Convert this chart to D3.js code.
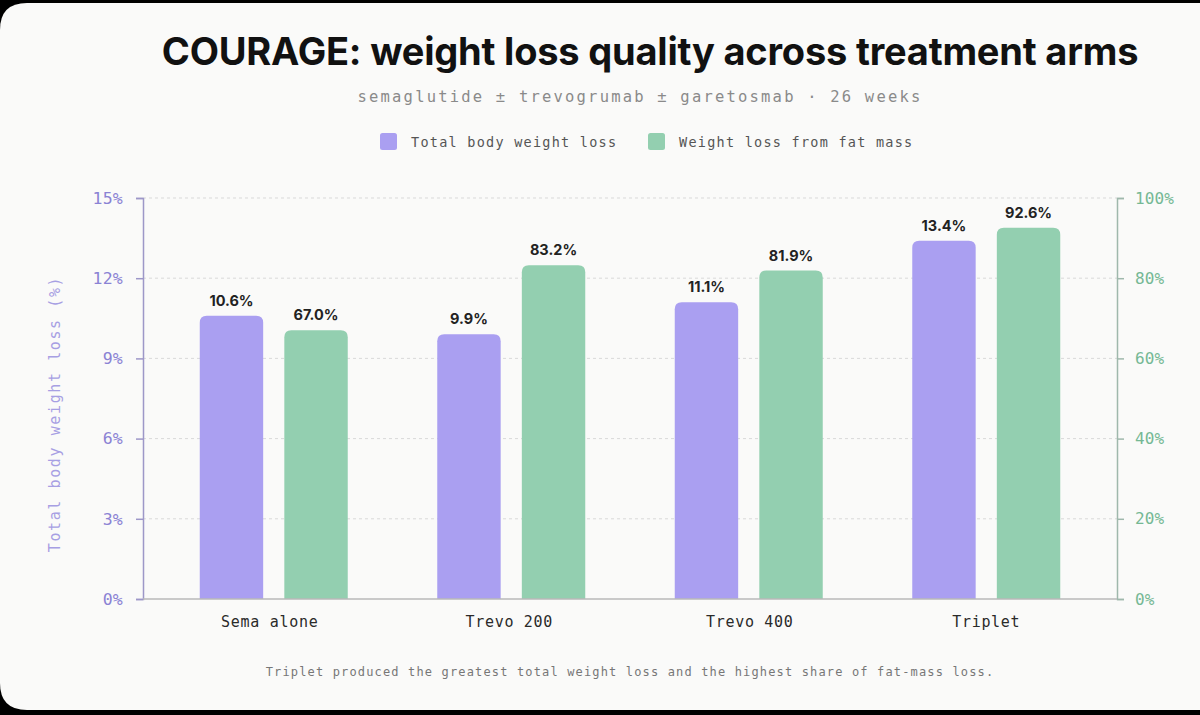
<!DOCTYPE html>
<html>
<head>
<meta charset="utf-8">
<script src="https://cdn.jsdelivr.net/npm/d3@7"></script>
<style>
  html, body { margin: 0; padding: 0; background: #000; }
  svg { display: block; }
</style>
</head>
<body>
<svg id="chart" width="1200" height="715"></svg>
<script>
const categories = ["Sema alone", "Trevo 200", "Trevo 400", "Triplet"];
const seriesNames = ["Total body weight loss", "Weight loss from fat mass"];
const totalLoss = [10.6, 9.9, 11.1, 13.4];
const fatMassShare = [67.0, 83.2, 81.9, 92.6];
const leftTicks = [0, 3, 6, 9, 12, 15];
const rightTicks = [0, 20, 40, 60, 80, 100];

(function () {
const W = 1200, H = 715;
const svg = d3.select("#chart");
const mono = "'DejaVu Sans Mono', 'Liberation Mono', monospace";
const sans = "Inter, 'Noto Sans', sans-serif";
const purple = "#aa9ff1";
const green = "#93cfb0";

// card background
const cr = 27, cTop = 3, cBot = 710;
svg.append("rect").attr("width", W).attr("height", H).attr("fill", "#000");
svg.append("path")
  .attr("d", `M${cr},${cTop} L${W},${cTop} L${W},${cBot} L${cr},${cBot} Q0,${cBot} 0,${cBot - cr} L0,${cTop + cr} Q0,${cTop} ${cr},${cTop} Z`)
  .attr("fill", "#fafaf9");

// title
svg.append("text").attr("x", 650).attr("y", 65).attr("text-anchor", "middle")
  .attr("font-family", sans).attr("font-weight", 700).attr("font-size", 38)
  .attr("letter-spacing", -0.2).attr("fill", "#111")
  .text("COURAGE: weight loss quality across treatment arms");

svg.append("text").attr("x", 640).attr("y", 102).attr("text-anchor", "middle")
  .attr("font-family", mono).attr("font-size", 15.5).attr("letter-spacing", 2.2)
  .attr("fill", "#8a8a8a")
  .text("semaglutide ± trevogrumab ± garetosmab · 26 weeks");

// legend
const legend = [
  { name: seriesNames[0], color: purple, x: 380 },
  { name: seriesNames[1], color: green, x: 648 }
];
legend.forEach(l => {
  svg.append("rect").attr("x", l.x).attr("y", 133).attr("width", 17).attr("height", 17)
    .attr("rx", 2.5).attr("fill", l.color);
  svg.append("text").attr("x", l.x + 31).attr("y", 147)
    .attr("font-family", mono).attr("font-size", 13.5).attr("letter-spacing", 1.25)
    .attr("fill", "#555").text(l.name);
});

// scales
const plotL = 143, plotR = 1117, plotT = 198, plotB = 599;
const x = d3.scaleBand().domain(categories).range([155, 1105]);
const xInner = d3.scaleBand().domain(seriesNames).range([-74, 74]).paddingInner(0.25);
const yL = d3.scaleLinear().domain([0, 15]).range([plotB, plotT]);
const yR = d3.scaleLinear().domain([0, 100]).range([plotB, plotT]);

// gridlines
svg.append("g").selectAll("line").data(leftTicks.filter(d => d > 0)).join("line")
  .attr("x1", plotL).attr("x2", plotR)
  .attr("y1", d => yL(d)).attr("y2", d => yL(d))
  .attr("stroke", "#d9d9d9").attr("stroke-width", 1).attr("stroke-dasharray", "3,3");

// bars
function barPath(x0, w, yTop, yBase, rad) {
  const rr = Math.min(rad, (yBase - yTop));
  return `M${x0},${yBase} L${x0},${yTop + rr} Q${x0},${yTop} ${x0 + rr},${yTop} L${x0 + w - rr},${yTop} Q${x0 + w},${yTop} ${x0 + w},${yTop + rr} L${x0 + w},${yBase} Z`;
}
const rows = categories.map((c, i) => ({ c, t: totalLoss[i], f: fatMassShare[i] }));
const g = svg.append("g");
rows.forEach(d => {
  const cx = x(d.c) + x.bandwidth() / 2;
  const bw = xInner.bandwidth();
  const x1 = cx + xInner(seriesNames[0]);
  const x2 = cx + xInner(seriesNames[1]);
  g.append("path").attr("d", barPath(x1, bw, yL(d.t), plotB, 7)).attr("fill", purple);
  g.append("path").attr("d", barPath(x2, bw, yR(d.f), plotB, 7)).attr("fill", green);
  g.append("text").attr("x", x1 + bw / 2).attr("y", yL(d.t) - 10).attr("text-anchor", "middle")
    .attr("font-family", sans).attr("font-weight", 700).attr("font-size", 14.5)
    .attr("fill", "#222").text(d.t.toFixed(1) + "%");
  g.append("text").attr("x", x2 + bw / 2).attr("y", yR(d.f) - 10).attr("text-anchor", "middle")
    .attr("font-family", sans).attr("font-weight", 700).attr("font-size", 14.5)
    .attr("fill", "#222").text(d.f.toFixed(1) + "%");
});

// left axis
const axL = svg.append("g").attr("transform", `translate(${plotL},0)`)
  .call(d3.axisLeft(yL).tickValues(leftTicks).tickFormat(d => d + "%").tickSize(7).tickPadding(13));
axL.select(".domain").attr("stroke", "#9d97c8").attr("stroke-width", 1.5);
axL.selectAll(".tick line").attr("stroke", "#9d97c8").attr("stroke-width", 1.5);
axL.selectAll(".tick text").attr("font-family", mono).attr("font-size", 16.5)
  .attr("letter-spacing", 0.2).attr("fill", "#8a82d4");

// right axis
const axR = svg.append("g").attr("transform", `translate(${plotR},0)`)
  .call(d3.axisRight(yR).tickValues(rightTicks).tickFormat(d => d + "%").tickSize(7).tickPadding(11));
axR.select(".domain").attr("stroke", "#9fb8ac").attr("stroke-width", 1.5);
axR.selectAll(".tick line").attr("stroke", "#9fb8ac").attr("stroke-width", 1.5);
axR.selectAll(".tick text").attr("font-family", mono).attr("font-size", 16)
  .attr("letter-spacing", 0.1).attr("fill", "#75b894");

// bottom axis line and category labels
svg.append("line").attr("x1", plotL).attr("x2", plotR).attr("y1", plotB).attr("y2", plotB)
  .attr("stroke", "#b8b8b8").attr("stroke-width", 1.5);
const labelOffsets = [-4, -2, 1, 0];
svg.append("g").selectAll("text").data(categories).join("text")
  .attr("x", (d, i) => x(d) + x.bandwidth() / 2 + labelOffsets[i])
  .attr("y", 627).attr("text-anchor", "middle")
  .attr("font-family", mono).attr("font-size", 15).attr("letter-spacing", 0.7)
  .attr("fill", "#2a2a2a").text(d => d);

// y axis title
svg.append("text").attr("transform", "translate(60,414) rotate(-90)")
  .attr("text-anchor", "middle").attr("font-family", mono).attr("font-size", 15)
  .attr("letter-spacing", 1.6).attr("fill", "#a79fe3")
  .text("Total body weight loss (%)");

// footnote
svg.append("text").attr("x", 630).attr("y", 676).attr("text-anchor", "middle")
  .attr("font-family", mono).attr("font-size", 12).attr("letter-spacing", 1.15)
  .attr("fill", "#777").text("Triplet produced the greatest total weight loss and the highest share of fat-mass loss.");
})();
</script>
</body>
</html>
